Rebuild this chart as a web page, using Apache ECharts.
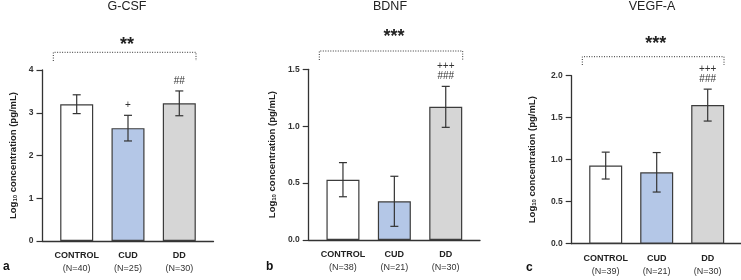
<!DOCTYPE html>
<html>
<head>
<meta charset="utf-8">
<script src="https://cdn.jsdelivr.net/npm/echarts@6/dist/echarts.min.js"></script>
<style>
  html, body { margin: 0; padding: 0; background: #fff; }
  #main { width: 741px; height: 280px; }
</style>
</head>
<body>
<div id="main"></div>
<script>
// groups
var categories = ['CONTROL', 'CUD', 'DD'];
var barColors = ['#ffffff', '#b4c7e7', '#d6d6d6'];

// G-CSF
var gcsfN = [40, 25, 30];
var gcsfMean = [3.2, 2.64, 3.22];
var gcsfErr = [0.22, 0.30, 0.29];
var gcsfMarks = ['', '+', '##'];
var gcsfTicks = [0, 1, 2, 3, 4];

// BDNF
var bdnfN = [38, 21, 30];
var bdnfMean = [0.53, 0.34, 1.17];
var bdnfErr = [0.15, 0.22, 0.18];
var bdnfMarks = ['', '', '+++\n###'];
var bdnfTicks = [0, 0.5, 1.0, 1.5];

// VEGF-A
var vegfN = [39, 21, 30];
var vegfMean = [0.93, 0.85, 1.65];
var vegfErr = [0.16, 0.235, 0.19];
var vegfMarks = ['', '', '+++\n###'];
var vegfTicks = [0, 0.5, 1.0, 1.5, 2.0];

var font = 'Liberation Sans, Arial, sans-serif';
var ink = '#333333';

var panels = [
  { title: 'G-CSF', letter: 'a', stars: '**', n: gcsfN, mean: gcsfMean, err: gcsfErr, marks: gcsfMarks, ticks: gcsfTicks, digits: 0,
    axisX: 42.5, top: 70, bottom: 241, width: 171, nameGap: 24 },
  { title: 'BDNF', letter: 'b', stars: '***', n: bdnfN, mean: bdnfMean, err: bdnfErr, marks: bdnfMarks, ticks: bdnfTicks, digits: 1,
    axisX: 308.7, top: 69.3, bottom: 240, width: 171.3, nameGap: 31 },
  { title: 'VEGF-A', letter: 'c', stars: '***', n: vegfN, mean: vegfMean, err: vegfErr, marks: vegfMarks, ticks: vegfTicks, digits: 1,
    axisX: 571.7, top: 75.7, bottom: 243.7, width: 170, nameGap: 34 }
];

var grid = [], xAxis = [], yAxis = [], series = [];

panels.forEach(function (p, k) {
  var h = p.bottom - p.top;
  var band = p.width * 0.3;
  var yMin = p.ticks[0], yMax = p.ticks[p.ticks.length - 1];
  var interval = p.ticks[1] - p.ticks[0];

  // axis-line grid (full width) and bar grid (inner)
  grid.push({ left: p.axisX, top: p.top, width: p.width, height: h });
  grid.push({ left: p.axisX + p.width * 0.2 - band / 2, top: p.top, width: band * 3, height: h });

  xAxis.push({
    gridIndex: 2 * k, type: 'value', min: 0, max: 1,
    axisLine: { show: true, lineStyle: { color: ink, width: 1.3 } },
    axisTick: { show: false }, axisLabel: { show: false }, splitLine: { show: false }
  });
  xAxis.push({
    gridIndex: 2 * k + 1, type: 'category', data: categories,
    axisLine: { show: false }, axisTick: { show: false }, splitLine: { show: false },
    axisLabel: {
      margin: 8, interval: 0,
      formatter: function (v, i) { return '{b|' + v + '}\n{n|(N=' + p.n[i] + ')}'; },
      rich: {
        b: { fontFamily: font, fontSize: 9, fontWeight: 'bold', color: '#222', lineHeight: 13 },
        n: { fontFamily: font, fontSize: 9, color: '#333', lineHeight: 13 }
      }
    }
  });

  yAxis.push({
    gridIndex: 2 * k, type: 'value', min: yMin, max: yMax, interval: interval,
    axisLine: { show: true, lineStyle: { color: ink, width: 1.3 } },
    axisTick: { show: true, inside: false, length: 6, lineStyle: { color: ink, width: 1.2 } },
    splitLine: { show: false },
    axisLabel: {
      margin: 9, fontFamily: font, fontSize: 8.5, fontWeight: 'bold', color: ink,
      formatter: function (v) { return v.toFixed(p.digits); }
    },
    name: '{t|Log}{s|10}{t| concentration (pg/mL)}',
    nameLocation: 'middle', nameGap: p.nameGap, nameRotate: 90,
    nameTextStyle: {
      rich: {
        t: { fontFamily: font, fontSize: 9.5, fontWeight: 'bold', color: '#222' },
        s: { fontFamily: font, fontSize: 6, fontWeight: 'bold', color: '#222', verticalAlign: 'bottom', padding: [4, 0, 0, 0] }
      }
    }
  });
  yAxis.push({ gridIndex: 2 * k + 1, type: 'value', min: yMin, max: yMax, interval: interval, show: false });

  series.push({
    type: 'bar', xAxisIndex: 2 * k + 1, yAxisIndex: 2 * k + 1, barWidth: 33,
    data: p.mean.map(function (m, i) {
      return { value: m, itemStyle: { color: barColors[i], borderColor: '#3c3c3c', borderWidth: 1.2 } };
    })
  });

  // error bars
  series.push({
    type: 'custom', xAxisIndex: 2 * k + 1, yAxisIndex: 2 * k + 1,
    data: p.mean.map(function (m, i) { return [i, m - p.err[i], m + p.err[i]]; }),
    renderItem: function (params, api) {
      var lo = api.coord([api.value(0), api.value(1)]);
      var hi = api.coord([api.value(0), api.value(2)]);
      var c = 4;
      var st = { stroke: ink, lineWidth: 1.2 };
      return { type: 'group', children: [
        { type: 'line', shape: { x1: lo[0], y1: lo[1], x2: hi[0], y2: hi[1] }, style: st },
        { type: 'line', shape: { x1: lo[0] - c, y1: lo[1], x2: lo[0] + c, y2: lo[1] }, style: st },
        { type: 'line', shape: { x1: hi[0] - c, y1: hi[1], x2: hi[0] + c, y2: hi[1] }, style: st }
      ]};
    },
    z: 5
  });

  // significance marks above error bars
  series.push({
    type: 'custom', xAxisIndex: 2 * k + 1, yAxisIndex: 2 * k + 1,
    data: p.mean.map(function (m, i) { return [i, m + p.err[i]]; }),
    renderItem: function (params, api) {
      var txt = p.marks[params.dataIndex];
      if (!txt) return null;
      var pt = api.coord([api.value(0), api.value(1)]);
      return { type: 'text', x: pt[0], y: pt[1] - 5, style: {
        text: txt, fill: ink, font: '10px ' + font, align: 'center', verticalAlign: 'bottom', lineHeight: 10
      }};
    },
    z: 6
  });
});

var brackets = [
  { x1: 53.3, x2: 196, y: 52.3, y2: 61, sx: 127, sy: 45 },
  { x1: 319.3, x2: 462.7, y: 51, y2: 60, sx: 394, sy: 37 },
  { x1: 582.3, x2: 724, y: 56.7, y2: 65, sx: 655.7, sy: 44.3 }
];
var titlePos = [127, 390, 652];
var letterPos = [[3, 267], [266, 267], [526, 268]];

var graphic = [];
panels.forEach(function (p, k) {
  var b = brackets[k];
  graphic.push({
    type: 'polyline',
    shape: { points: [[b.x1, b.y2], [b.x1, b.y], [b.x2, b.y], [b.x2, b.y2]] },
    style: { stroke: ink, lineWidth: 1, lineDash: [1, 1.5], fill: null }
  });
  graphic.push({ type: 'text', x: b.sx, y: b.sy, style: {
    text: p.stars, font: 'bold 18px ' + font, fill: '#222', align: 'center', verticalAlign: 'middle' } });
  graphic.push({ type: 'text', x: titlePos[k], y: 7, style: {
    text: p.title, font: '12.5px ' + font, fill: '#222', align: 'center', verticalAlign: 'middle' } });
  graphic.push({ type: 'text', x: letterPos[k][0], y: letterPos[k][1], style: {
    text: p.letter, font: 'bold 12px ' + font, fill: '#111', align: 'left', verticalAlign: 'middle' } });
});

var chart = echarts.init(document.getElementById('main'), null, { renderer: 'canvas' });
chart.setOption({
  animation: false,
  backgroundColor: '#ffffff',
  grid: grid,
  xAxis: xAxis,
  yAxis: yAxis,
  series: series,
  graphic: graphic
});
</script>
</body>
</html>
